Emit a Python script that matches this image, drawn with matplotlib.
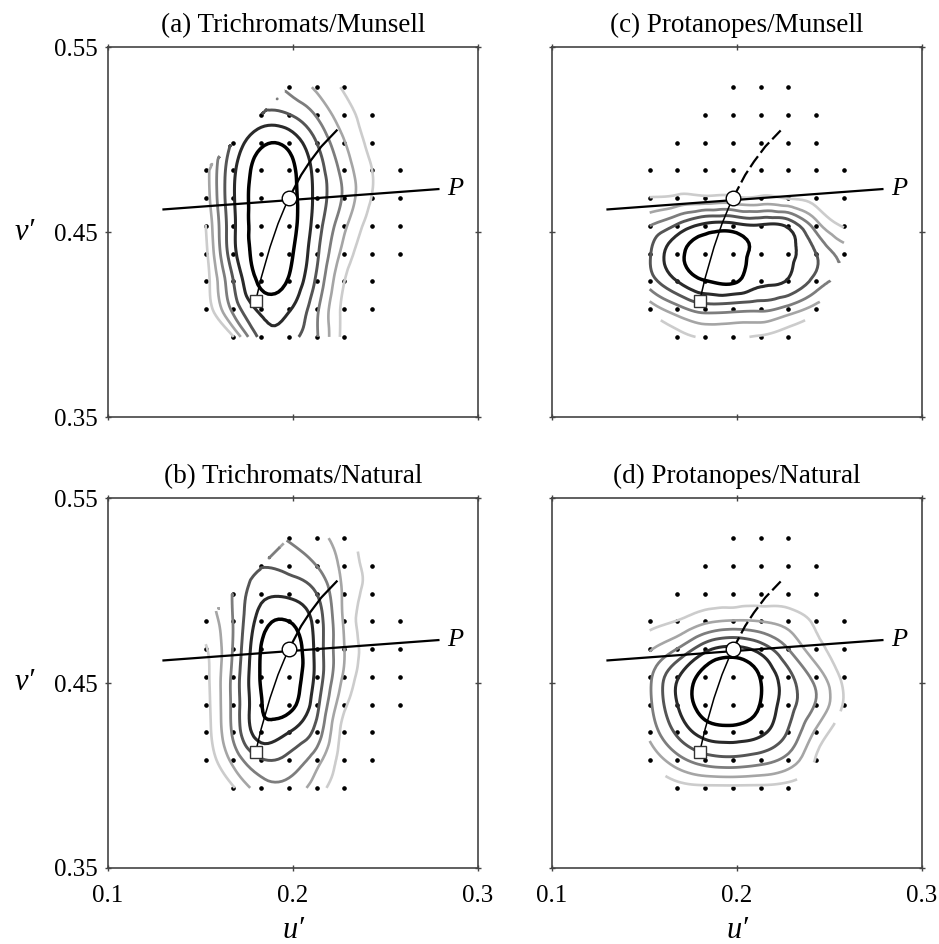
import matplotlib
matplotlib.use("Agg")
import matplotlib.pyplot as plt
import matplotlib.tri as mtri
import numpy as np

plt.rcParams["font.family"] = ["Liberation Serif", "DejaVu Serif"]

# sampling grid in u'v', centred on D65, 0.015 apart
white_u, white_v = 0.1978, 0.4683
grid_step = 0.015
row_offsets = [4, 3, 2, 1, 0, -1, -2, -3, -4, -5]
row_first = [0, -1, -2, -3, -3, -3, -3, -3, -3, -2]
row_last = [2, 3, 3, 4, 4, 4, 4, 3, 3, 2]

# contour field at the grid points, top row first (1 = outermost level, 6 = innermost)
field_tri_munsell = [
    [2.8, 1.8, 0.9],
    [4.2, 4.05, 2.9, 1.4, 0.6],
    [4.2, 5.8, 5.7, 4.0, 2.05, 0.7],
    [1.5, 4.8, 6.4, 6.3, 4.6, 2.6, 1.0, 0.4],
    [1.4, 4.9, 6.5, 6.4, 4.7, 2.8, 0.95, 0.4],
    [1.0, 4.8, 6.5, 6.4, 4.5, 2.2, 0.6, 0.3],
    [0.7, 4.7, 6.4, 6.2, 4.2, 1.6, 0.35, 0.2],
    [0.5, 4.0, 6.2, 5.9, 3.8, 1.0, 0.3],
    [0.3, 3.3, 5.25, 5.1, 3.2, 0.7, 0.2],
    [0.95, 4.3, 4.3, 3.1, 0.6],
]
field_tri_natural = [
    [2.9, 2.3, 1.5],
    [3.95, 3.7, 3.0, 1.7, 0.6],
    [3.1, 4.7, 4.8, 4.0, 1.8, 0.7],
    [1.5, 3.05, 5.5, 6.0, 4.6, 1.85, 0.4, 0.3],
    [0.9, 3.1, 6.05, 6.7, 4.7, 2.0, 0.5, 0.2],
    [0.7, 3.3, 6.1, 6.6, 4.7, 1.8, 0.4, 0.2],
    [0.6, 3.3, 5.95, 6.3, 4.3, 1.2, 0.3, 0.15],
    [0.5, 3.2, 5.5, 5.0, 3.6, 0.6, 0.2],
    [0.2, 2.3, 3.9, 3.7, 2.4, 0.5, 0.15],
    [0.9, 2.5, 2.6, 1.5, 0.2],
]
field_prot_munsell = [
    [0.1, 0.1, 0.1],
    [0.15, 0.15, 0.15, 0.15, 0.1],
    [0.2, 0.25, 0.3, 0.3, 0.25, 0.15],
    [0.3, 0.4, 0.4, 0.4, 0.4, 0.35, 0.3, 0.2],
    [1.05, 1.25, 1.25, 1.25, 1.2, 0.95, 0.6, 0.3],
    [3.0, 4.2, 5.3, 5.4, 5.15, 4.8, 2.5, 0.9],
    [3.9, 5.7, 6.5, 6.6, 5.5, 5.3, 4.0, 2.6],
    [3.5, 5.0, 5.95, 6.15, 5.2, 4.9, 3.6],
    [1.3, 2.6, 3.4, 3.3, 3.2, 2.6, 1.5],
    [0.6, 1.1, 1.15, 0.9, 0.4],
]
field_prot_natural = [
    [0.1, 0.1, 0.1],
    [0.15, 0.2, 0.2, 0.2, 0.1],
    [0.3, 0.45, 0.55, 0.55, 0.5, 0.3],
    [0.6, 1.05, 1.8, 2.1, 2.0, 1.6, 0.85, 0.4],
    [1.9, 3.05, 4.7, 5.3, 4.6, 3.0, 1.4, 0.5],
    [2.8, 4.9, 6.4, 6.9, 5.95, 4.3, 2.6, 0.7],
    [2.8, 5.0, 6.5, 6.9, 5.95, 4.4, 2.9, 0.9],
    [2.3, 4.2, 5.4, 5.6, 5.2, 3.9, 1.8],
    [1.1, 2.6, 3.5, 3.7, 3.4, 2.6, 0.9],
    [0.5, 0.7, 0.7, 0.7, 0.5],
]

contour_levels = [1, 2, 3, 4, 5, 6]
contour_colors = ["#cccccc", "#a5a5a5", "#7d7d7d", "#555555", "#2a2a2a", "#000000"]
contour_widths = [1.9, 1.9, 2.0, 2.1, 2.2, 2.5]

# CIE daylight locus, 25000 K down to 4000 K
locus_cct = [25000, 15000, 10000, 8000, 7000, 6504, 5503, 5003, 4500, 4000]
locus_u = [0.1798, 0.1828, 0.1876, 0.1919, 0.1955, 0.1978, 0.2044, 0.2092, 0.2153, 0.2236]
locus_v = [0.4126, 0.4252, 0.4419, 0.4545, 0.4632, 0.4683, 0.4808, 0.4881, 0.4962, 0.5049]

# protan confusion line through the white point
pline_u = [0.130, 0.2786]
pline_v = [0.4622, 0.4732]

panels = [
    ("(a) Trichromats/Munsell", field_tri_munsell, False, (108, 47)),
    ("(b) Trichromats/Natural", field_tri_natural, False, (108, 498)),
    ("(c) Protanopes/Munsell", field_prot_munsell, True, (552, 47)),
    ("(d) Protanopes/Natural", field_prot_natural, True, (552, 498)),
]

W, H = 939, 944
fig = plt.figure(figsize=(W / 100, H / 100), dpi=100)

grid_u, grid_v = [], []
for j, k0, k1 in zip(row_offsets, row_first, row_last):
    for k in range(k0, k1 + 1):
        grid_u.append(white_u + k * grid_step)
        grid_v.append(white_v + j * grid_step)
grid_u = np.array(grid_u)
grid_v = np.array(grid_v)
tri = mtri.Triangulation(grid_u, grid_v)
refiner = mtri.UniformTriRefiner(tri)

i_white = locus_cct.index(6504)

for title, field, protan, (px, py) in panels:
    ax = fig.add_axes([px / W, 1 - (py + 370) / H, 370 / W, 370 / H])
    z = np.concatenate([np.array(r, float) for r in field])

    ax.plot(grid_u, grid_v, ls="none", marker="o", ms=2.3, color="black", zorder=1)

    tri_f, z_f = refiner.refine_field(z, subdiv=3)
    ax.tricontour(tri_f, z_f, levels=contour_levels, colors=contour_colors,
                  linewidths=contour_widths, zorder=2)

    ax.plot(pline_u, pline_v, color="black", lw=1.6, zorder=3)
    ax.plot(locus_u[:i_white + 1], locus_v[:i_white + 1], color="black", lw=1.1, zorder=3)
    if protan:
        ax.plot(locus_u[i_white:], locus_v[i_white:], color="black", lw=1.6,
                dashes=(6, 2), zorder=3)
    else:
        ax.plot(locus_u[i_white:], locus_v[i_white:], color="black", lw=1.6, zorder=3)

    ax.plot(white_u, white_v, marker="o", ms=10.5, mfc="white", mec="black", mew=1.0, zorder=5)
    ax.plot(locus_u[0], locus_v[0], marker="s", ms=8.5, mfc="white", mec="#333333", mew=1.0, zorder=5)
    ax.text(pline_u[1] + 0.0089, pline_v[1], "P", style="italic", fontsize=19,
            ha="center", va="center")

    ax.set_xlim(0.1, 0.3)
    ax.set_ylim(0.35, 0.55)
    ax.set_xticks([0.1, 0.2, 0.3])
    ax.set_xticklabels(["0.1", "0.2", "0.3"])
    ax.set_yticks([0.35, 0.45, 0.55])
    ax.set_yticklabels(["0.35", "0.45", "0.55"])
    ax.tick_params(direction="inout", length=5, width=1, colors="#444444",
                   labelcolor="black", labelsize=18, top=True, right=True)
    ax.tick_params(axis="x", pad=10)
    ax.tick_params(axis="y", pad=5)
    for s in ax.spines.values():
        s.set_color("#444444")
        s.set_linewidth(1.2)

    ax.set_title(title, fontsize=19.5, pad=11)

    if px > 300:
        ax.tick_params(labelleft=False)
    else:
        ax.set_ylabel("v\u2032", style="italic", rotation=0, fontsize=22,
                      va="center", ha="center")
        ax.yaxis.set_label_coords(-0.225, 0.5)
    if py < 300:
        ax.tick_params(labelbottom=False)
    else:
        ax.set_xlabel("u\u2032", style="italic", fontsize=22, va="center", ha="center")
        ax.xaxis.set_label_coords(0.5, -0.17)

fig.savefig("out.png", dpi=100)
